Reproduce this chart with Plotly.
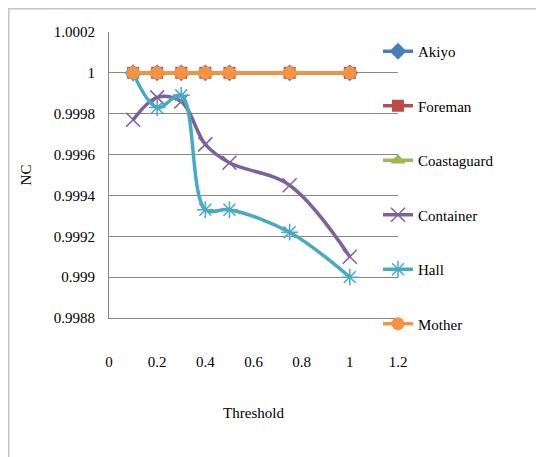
import plotly.graph_objects as go

# ---- data ----
thresholds = [0.1, 0.2, 0.3, 0.4, 0.5, 0.75, 1.0]
akiyo = [1, 1, 1, 1, 1, 1, 1]
foreman = [1, 1, 1, 1, 1, 1, 1]
coastaguard = [1, 1, 1, 1, 1, 1, 1]
container = [0.99977, 0.99988, 0.99986, 0.99965, 0.99956, 0.99945, 0.99910]
hall = [1.0, 0.99983, 0.99989, 0.99933, 0.99933, 0.99922, 0.99900]
mother = [1, 1, 1, 1, 1, 1, 1]

y_tickvals = [0.9988, 0.999, 0.9992, 0.9994, 0.9996, 0.9998, 1.0, 1.0002]
y_ticktext = ["0.9988", "0.999", "0.9992", "0.9994", "0.9996", "0.9998", "1", "1.0002"]
x_tickvals = [0, 0.2, 0.4, 0.6, 0.8, 1.0, 1.2]
x_ticktext = ["0", "0.2", "0.4", "0.6", "0.8", "1", "1.2"]

FONT = "Liberation Serif, Times New Roman, serif"
FS = 15

series = [
    ("Akiyo", akiyo, "#4A7EBB", "diamond", 13),
    ("Foreman", foreman, "#BE4B48", "square", 12),
    ("Coastaguard", coastaguard, "#98B954", "triangle-up", 13),
    ("Container", container, "#7D60A0", "x-thin-open", 14),
    ("Hall", hall, "#46AAC5", "asterisk-open", 14),
    ("Mother", mother, "#F69240", "circle", 13),
]

fig = go.Figure()
for name, vals, color, sym, size in series:
    open_marker = sym.endswith("-open")
    fig.add_trace(go.Scatter(
        x=thresholds, y=vals, name=name, legendgroup=name,
        mode="lines+markers",
        line=dict(color=color, width=3.5, shape="spline", smoothing=1),
        marker=dict(symbol=sym, size=size, color=color,
                    line=dict(color=color, width=1.5 if open_marker else 0)),
    ))

# page body has an 8px margin, so figure coordinates are screen - 8
W, H = 536, 449
L, R, T, B = 101, 390, 24, 310
pw, ph = R - L, B - T

def px_x(p):
    return (p - L) / pw

def px_y(p):
    return (B - p) / ph

fig.add_shape(type="rect", xref="paper", yref="paper",
              x0=px_x(0.75), x1=px_x(700), y0=px_y(0.75), y1=px_y(700),
              line=dict(color="#C4C4C4", width=1.5), fillcolor="rgba(0,0,0,0)",
              layer="below")

tickfont = dict(family=FONT, size=FS, color="black")

fig.update_layout(
    width=W, height=H,
    margin=dict(l=L, r=W - R, t=T, b=H - B, autoexpand=False),
    paper_bgcolor="white", plot_bgcolor="white",
    font=dict(family=FONT, size=FS, color="black"),
    showlegend=True,
    legend=dict(x=px_x(370), y=px_y(27), xanchor="left", yanchor="top",
                bgcolor="rgba(0,0,0,0)", tracegroupgap=32, maxheight=600,
                font=dict(family=FONT, size=FS, color="black")),
    xaxis=dict(range=[0, 1.2], tickvals=x_tickvals, ticktext=x_ticktext,
               tickfont=tickfont,
               showgrid=False, zeroline=False, showline=True,
               linecolor="#888888", linewidth=1.2,
               ticks="outside", ticklen=30, tickcolor="rgba(0,0,0,0)",
               title=dict(text="Threshold", standoff=38,
                          font=dict(family=FONT, size=FS))),
    yaxis=dict(range=[0.9988, 1.0002], tickvals=y_tickvals, ticktext=y_ticktext,
               tickfont=tickfont,
               showgrid=True, gridcolor="#888888", gridwidth=1.2,
               zeroline=False, showline=True, linecolor="#888888", linewidth=1.2,
               ticks="outside", ticklen=10, tickcolor="rgba(0,0,0,0)",
               title=dict(text="NC", standoff=18,
                          font=dict(family=FONT, size=FS))),
)

fig.write_html("out.html")
